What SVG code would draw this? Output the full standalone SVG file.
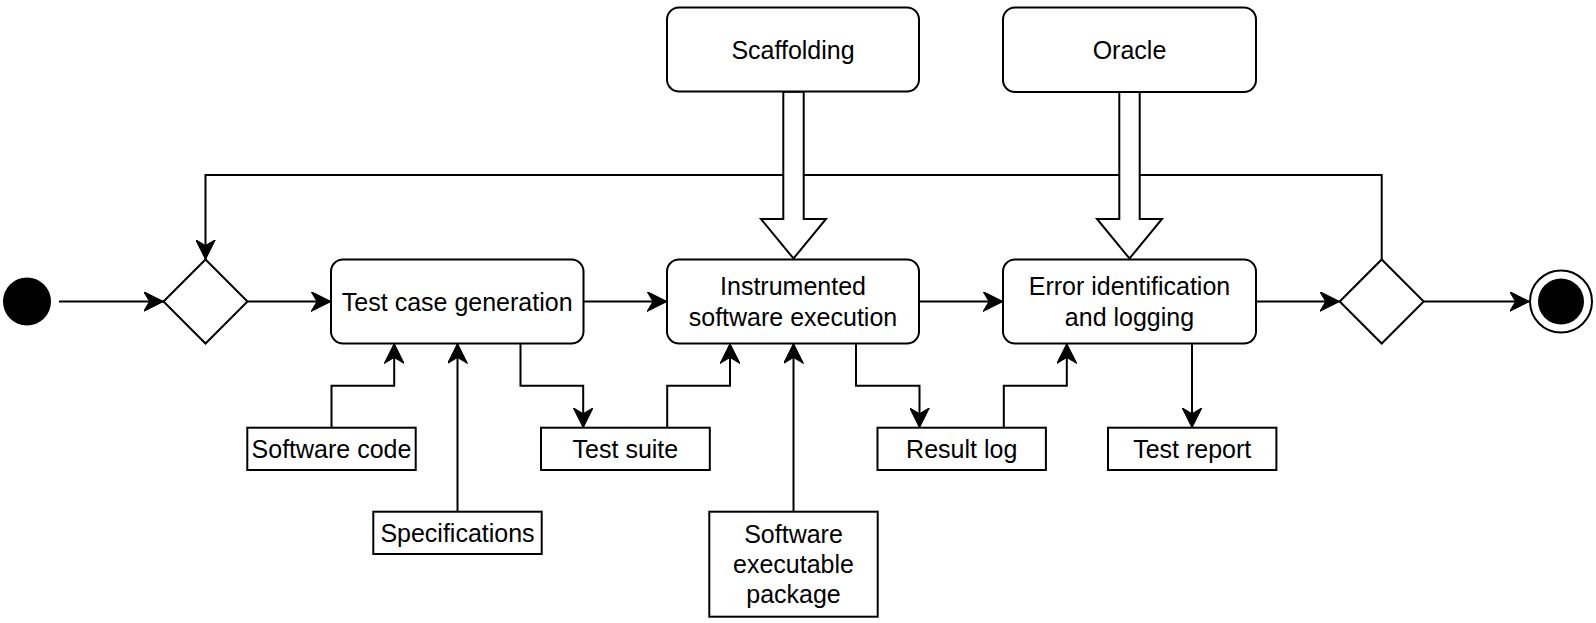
<svg xmlns="http://www.w3.org/2000/svg" width="1596" height="623" viewBox="0 0 1596 623">
<style>
.box{fill:#fff;stroke:#000;stroke-width:2}
.ln{fill:none;stroke:#000;stroke-width:2}
.hollow{fill:#fff;stroke:#000;stroke-width:2;stroke-linejoin:miter}
text{font-family:"Liberation Sans",Arial,sans-serif;font-size:25px;fill:#000;text-anchor:middle}
</style>
<defs>
<marker id="arr" viewBox="0 0 20 20" refX="20" refY="10" markerWidth="20" markerHeight="20" markerUnits="userSpaceOnUse" orient="auto">
<path d="M0,0 L20,10 L0,20 L6,10 Z" fill="#000" stroke="#000" stroke-width="1"/>
</marker>
</defs>
<rect width="1596" height="623" fill="#fff"/>

<g id="connectors">
<path class="ln" d="M1381.7,259.5 V175 H205.5 V259.5" marker-end="url(#arr)"/>
<line class="ln" x1="59" y1="301.5" x2="163.5" y2="301.5" marker-end="url(#arr)"/>
<line class="ln" x1="247.5" y1="301.5" x2="331" y2="301.5" marker-end="url(#arr)"/>
<line class="ln" x1="583.5" y1="301.5" x2="667" y2="301.5" marker-end="url(#arr)"/>
<line class="ln" x1="919" y1="301.5" x2="1003" y2="301.5" marker-end="url(#arr)"/>
<line class="ln" x1="1256" y1="301.5" x2="1339.7" y2="301.5" marker-end="url(#arr)"/>
<line class="ln" x1="1423.7" y1="301.5" x2="1529.5" y2="301.5" marker-end="url(#arr)"/>
<path class="ln" d="M331.5,427.7 V385.7 H394.2 V343.5" marker-end="url(#arr)"/>
<path class="ln" d="M457.5,511.7 V343.5" marker-end="url(#arr)"/>
<path class="ln" d="M520.5,343.5 V385.7 H583.2 V427.7" marker-end="url(#arr)"/>
<path class="ln" d="M667.2,427.7 V385.7 H730 V343.5" marker-end="url(#arr)"/>
<path class="ln" d="M793.5,511.7 V343.5" marker-end="url(#arr)"/>
<path class="ln" d="M856,343.5 V385.7 H919.5 V427.7" marker-end="url(#arr)"/>
<path class="ln" d="M1003.8,427.7 V385.7 H1066.8 V343.5" marker-end="url(#arr)"/>
<path class="ln" d="M1192,343.5 V427.7" marker-end="url(#arr)"/>
<polygon class="hollow" points="783.3,91.7 783.3,219 761,219 793.5,258.5 826,219 803.7,219 803.7,91.7"/>
<polygon class="hollow" points="1119.3,92 1119.3,219 1097,219 1129.5,258.5 1162,219 1139.7,219 1139.7,92"/>
</g>

<g id="start"><circle cx="27" cy="301.5" r="24" fill="#000"/></g>
<g id="merge"><polygon class="box" points="163.5,301.5 205.5,259.5 247.5,301.5 205.5,343.5"/></g>
<g id="decision"><polygon class="box" points="1339.7,301.5 1381.7,259.5 1423.7,301.5 1381.7,343.5"/></g>
<g id="end"><circle cx="1561" cy="301.5" r="31" class="box"/><circle cx="1561" cy="301.5" r="23" fill="#000"/></g>

<g id="tcg"><rect class="box" x="331" y="259.5" width="252.5" height="84" rx="12"/><text x="457.2" y="310.5">Test case generation</text></g>
<g id="ise"><rect class="box" x="667" y="259.5" width="252" height="84" rx="12"/><text x="793" y="295">Instrumented</text><text x="793" y="326">software execution</text></g>
<g id="eil"><rect class="box" x="1003" y="259.5" width="253" height="84" rx="12"/><text x="1129.5" y="295">Error identification</text><text x="1129.5" y="326">and logging</text></g>
<g id="scaffolding"><rect class="box" x="667" y="7.5" width="252" height="84" rx="12"/><text x="793" y="58.5">Scaffolding</text></g>
<g id="oracle"><rect class="box" x="1003" y="7.5" width="253" height="84.5" rx="12"/><text x="1129.5" y="58.5">Oracle</text></g>

<g id="software-code"><rect class="box" x="247.3" y="427.7" width="168.4" height="42.3"/><text x="331.5" y="457.5">Software code</text></g>
<g id="specifications"><rect class="box" x="373.3" y="511.7" width="168.4" height="42.3"/><text x="457.5" y="541.5">Specifications</text></g>
<g id="test-suite"><rect class="box" x="541" y="427.7" width="168.8" height="42.3"/><text x="625.4" y="457.5">Test suite</text></g>
<g id="sep"><rect class="box" x="709.3" y="511.7" width="168.4" height="105"/><text x="793.5" y="542.5">Software</text><text x="793.5" y="572.5">executable</text><text x="793.5" y="602.5">package</text></g>
<g id="result-log"><rect class="box" x="877.5" y="427.7" width="168.4" height="42.3"/><text x="961.7" y="457.5">Result log</text></g>
<g id="test-report"><rect class="box" x="1108" y="427.7" width="168.4" height="42.3"/><text x="1192.2" y="457.5">Test report</text></g>
</svg>
